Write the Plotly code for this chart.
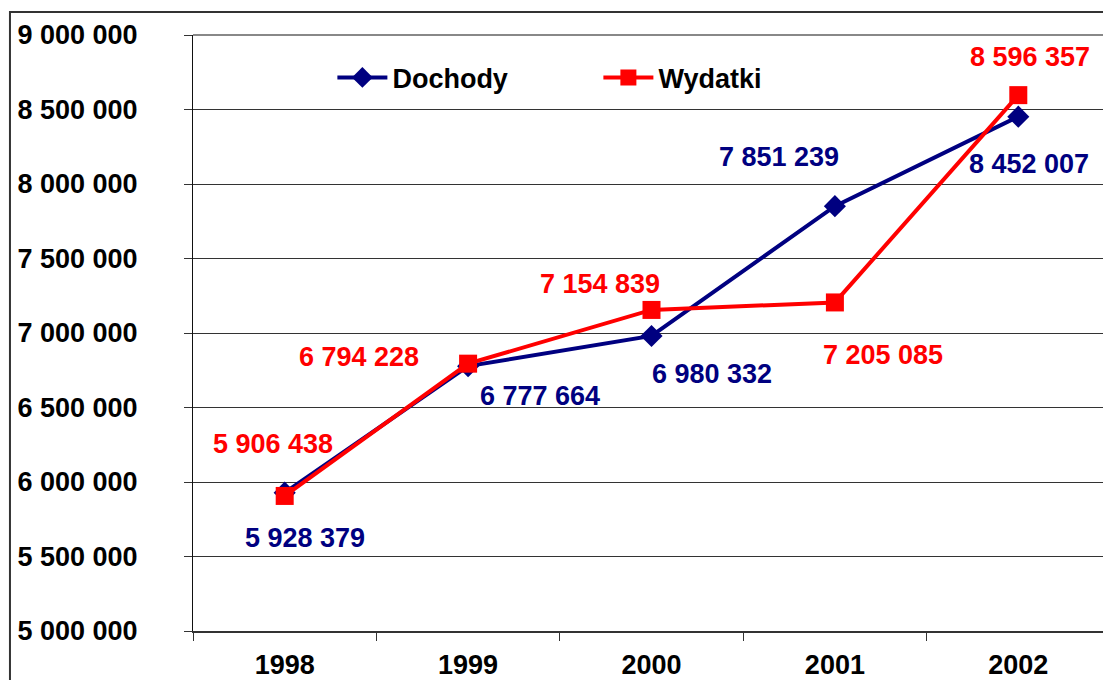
import plotly.graph_objects as go

years = ["1998", "1999", "2000", "2001", "2002"]
dochody = [5928379, 6777664, 6980332, 7851239, 8452007]
wydatki = [5906438, 6794228, 7154839, 7205085, 8596357]
y_ticks = [5000000, 5500000, 6000000, 6500000, 7000000, 7500000, 8000000, 8500000, 9000000]

# label offsets (px) relative to each point
doch_shift = [(20, -45), (72, -30), (60, -38), (-56, 49), (11, -47)]
wyd_shift = [(-12, 52), (-109, 7), (-52, 26), (48, -53), (12, 38)]

NAVY = "#000080"
RED = "#FF0000"
FONT = "Liberation Sans, Arial, sans-serif"
FS = 27

def fmt(v):
    return f"{v:,}".replace(",", " ")

fig = go.Figure()
fig.add_trace(go.Scatter(
    x=years, y=dochody, name="Dochody", mode="lines+markers",
    line=dict(color=NAVY, width=4),
    marker=dict(symbol="diamond", size=17, color=NAVY),
))
fig.add_trace(go.Scatter(
    x=years, y=wydatki, name="Wydatki", mode="lines+markers",
    line=dict(color=RED, width=4),
    marker=dict(symbol="square", size=18, color=RED),
))

annotations = []
for i, (v, (dx, dy)) in enumerate(zip(dochody, doch_shift)):
    annotations.append(dict(x=i, y=v, xref="x", yref="y", text=fmt(v), showarrow=False,
                            xshift=dx, yshift=dy,
                            font=dict(family=FONT, size=FS, color=NAVY, weight="bold")))
for i, (v, (dx, dy)) in enumerate(zip(wydatki, wyd_shift)):
    annotations.append(dict(x=i, y=v, xref="x", yref="y", text=fmt(v), showarrow=False,
                            xshift=dx, yshift=dy,
                            font=dict(family=FONT, size=FS, color=RED, weight="bold")))

fig.update_layout(
    width=1103, height=672,
    margin=dict(l=185, r=1, t=27, b=49, autoexpand=False),
    paper_bgcolor="white", plot_bgcolor="white",
    separators=", ",
    font=dict(family=FONT, size=FS, color="black", weight="bold"),
    showlegend=True,
    legend=dict(orientation="h", x=0.152, y=0.928, xanchor="left", yanchor="middle",
                bgcolor="rgba(0,0,0,0)", font=dict(size=FS, color="black", weight="bold"),
                entrywidth=201, itemwidth=50),
    annotations=annotations,
    shapes=[
        dict(type="rect", xref="paper", yref="paper", x0=-0.1996, x1=1.2, y0=-0.3, y1=1.0386,
             line=dict(color="#333333", width=2), layer="below"),
        dict(type="line", xref="paper", yref="paper", x0=1, x1=1, y0=0, y1=1,
             line=dict(color="#888888", width=2)),
        dict(type="line", xref="paper", yref="paper", x0=0, x1=1, y0=1, y1=1,
             line=dict(color="#888888", width=2)),
    ],
)
fig.update_xaxes(
    type="category", range=[-0.5, 4.5], tickson="boundaries", automargin=False,
    ticks="outside", ticklen=8, tickcolor="#333333", tickwidth=1,
    showline=True, linecolor="#333333", linewidth=2,
    showgrid=False, ticklabelstandoff=9,
    tickfont=dict(size=FS, color="black", weight="bold"),
)
fig.update_yaxes(
    range=[5000000, 9000000], tickvals=y_ticks, tickformat=",d", automargin=False,
    ticks="outside", ticklen=8, tickcolor="#333333", tickwidth=1,
    showline=True, linecolor="#111111", linewidth=1,
    showgrid=True, gridcolor="#333333", gridwidth=1,
    zeroline=False, ticklabelstandoff=41,
    tickfont=dict(size=FS, color="black", weight="bold"),
)

fig.write_html("out.html")
